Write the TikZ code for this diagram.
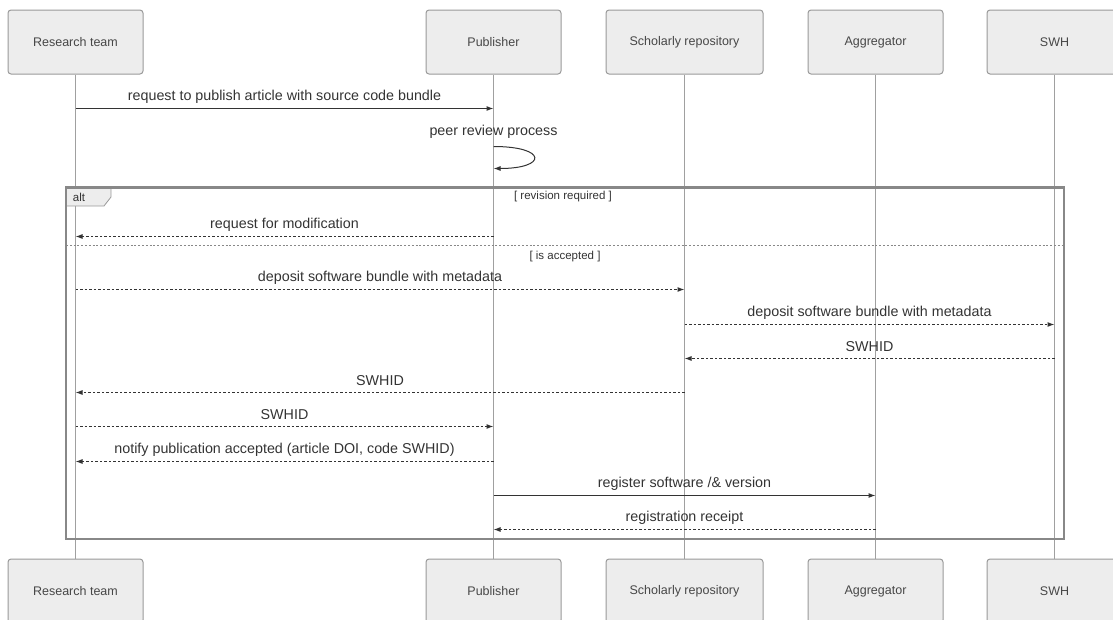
\documentclass[tikz,border=0pt]{standalone}
\usepackage{fontspec}
\setmainfont{Liberation Sans}
\usetikzlibrary{arrows.meta}
\definecolor{ink}{HTML}{333333}
\definecolor{boxfill}{HTML}{EDEDED}
\definecolor{boxline}{HTML}{9A9A9A}
\definecolor{lifegray}{HTML}{A0A0A0}
\definecolor{framegray}{HTML}{888888}

\begin{document}
\begin{tikzpicture}[x=1pt,y=-1pt]
    \tikzstyle{actor}=[rectangle, rounded corners=3pt, draw=boxline, line width=1pt, fill=boxfill,
                       minimum width=135pt, minimum height=64pt, text=ink!90,
                       font=\fontsize{12.5}{15}\selectfont]
    \tikzstyle{lifeline}=[lifegray, line width=1pt]
    \tikzstyle{call}=[ink, line width=1pt, -{Latex[length=7pt,width=5pt]}]
    \tikzstyle{reply}=[call, dash pattern=on 2.5pt off 2pt]
    \tikzstyle{msgtext}=[text=ink, inner sep=0pt, font=\fontsize{14.3}{17}\selectfont]
    \tikzstyle{lbl}=[msgtext, yshift=12pt]
    \tikzstyle{guard}=[text=ink, inner sep=0pt, font=\fontsize{11.5}{14}\selectfont]

    \useasboundingbox (0,0) rectangle (1113,619);

    % participants
    \node[actor] (rtTop) at (75.5,42) {Research team};
    \node[actor] (pubTop) at (493.5,42) {Publisher};
    \node[actor, minimum width=157pt] (repoTop) at (684.5,42) {Scholarly repository};
    \node[actor] (aggTop) at (875.5,42) {Aggregator};
    \node[actor] (swhTop) at (1054.5,42) {SWH};

    \node[actor] (rtBot) at (75.5,591) {Research team};
    \node[actor] (pubBot) at (493.5,591) {Publisher};
    \node[actor, minimum width=157pt] (repoBot) at (684.5,591) {Scholarly repository};
    \node[actor] (aggBot) at (875.5,591) {Aggregator};
    \node[actor] (swhBot) at (1054.5,591) {SWH};

    \foreach \p in {rt,pub,repo,agg,swh}
        \draw[lifeline] (\p Top.south) -- (\p Bot.north);

    % alt fragment
    \node[minimum width=998pt, minimum height=351.5pt, inner sep=0pt, outer sep=0pt] (alt) at (565,363.25) {};
    \draw[draw=boxline, fill=boxfill, line width=0.8pt] (alt.north west) -- ++(45,0) -- ++(0,9.5)
                                                       -- ++(-7,9) -- ++(-38,0) -- cycle;
    \node[guard] (altlbl) at (79,197) {alt};
    \draw[framegray, line width=2.5pt] (alt.north west) rectangle (alt.south east);
    \draw[framegray, line width=1.6pt, dash pattern=on 2pt off 1.8pt] (alt.west |- 0,245.5) -- (alt.east |- 0,245.5);
    \node[guard] (revision) at (563,197) {[ revision required ]};
    \node[guard] (accepted) at (565,256.7) {[ is accepted ]};

    % messages
    \draw[call] (rtTop |- 0,108.5) -- node[lbl] {request to publish article with source code bundle} (pubTop |- 0,108.5);
    \node[msgtext] (review) at (493.5,131.7) {peer review process};
    \draw[call] (pubTop |- 0,146.5) .. controls +(54,0) and +(54,0) .. (pubTop |- 0,168.5);
    \draw[reply] (pubTop |- 0,236.5) -- node[lbl] {request for modification} (rtTop |- 0,236.5);
    \draw[reply] (rtTop |- 0,289.5) -- node[lbl] {deposit software bundle with metadata} (repoTop |- 0,289.5);
    \draw[reply] (repoTop |- 0,324.5) -- node[lbl] {deposit software bundle with metadata} (swhTop |- 0,324.5);
    \draw[reply] (swhTop |- 0,358.5) -- node[lbl] {SWHID} (repoTop |- 0,358.5);
    \draw[reply] (repoTop |- 0,392.5) -- node[lbl] {SWHID} (rtTop |- 0,392.5);
    \draw[reply] (rtTop |- 0,426.5) -- node[lbl] {SWHID} (pubTop |- 0,426.5);
    \draw[reply] (pubTop |- 0,461.5) -- node[lbl] {notify publication accepted (article DOI, code SWHID)} (rtTop |- 0,461.5);
    \draw[call] (pubTop |- 0,495.5) -- node[lbl] {register software /\& version} (aggTop |- 0,495.5);
    \draw[reply] (aggTop |- 0,529.5) -- node[lbl] {registration receipt} (pubTop |- 0,529.5);

\end{tikzpicture}
\end{document}
